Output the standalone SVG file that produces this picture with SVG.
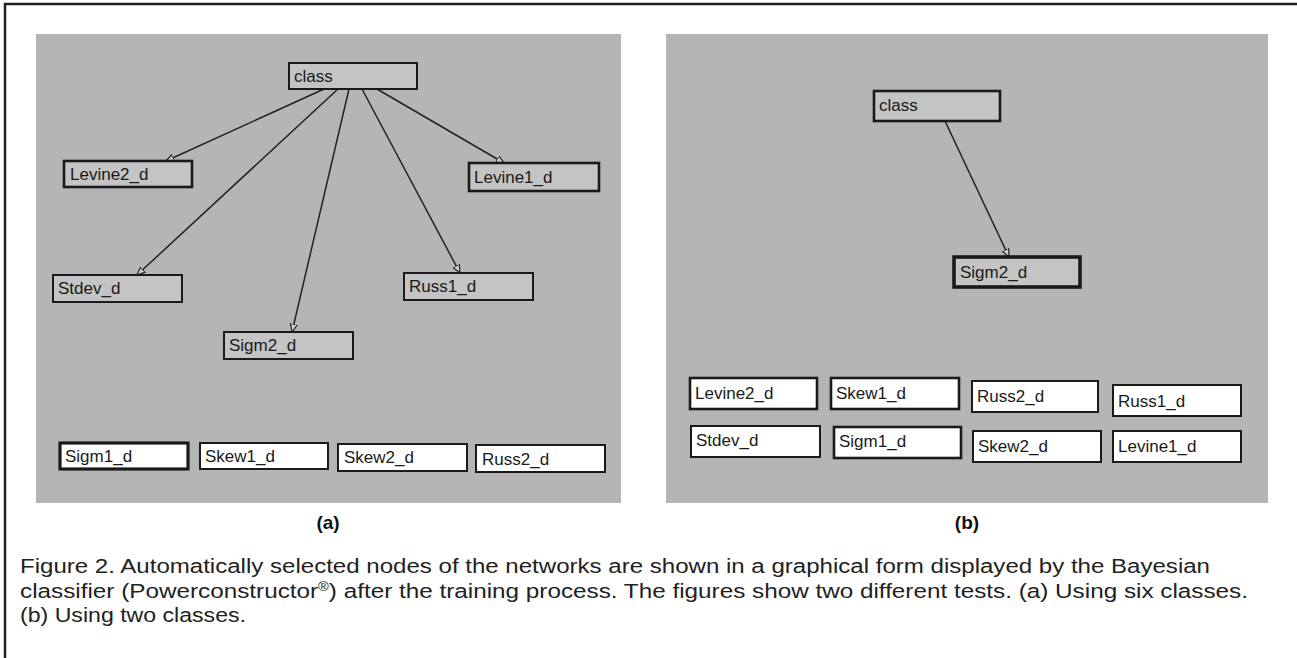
<svg xmlns="http://www.w3.org/2000/svg" width="1297" height="658" viewBox="0 0 1297 658">
<style>
.panel{fill:#b5b5b5}
.ng{fill:#c4c4c4;stroke:#1a1a1a;stroke-width:2}
.nw{fill:#ffffff;stroke:#1a1a1a;stroke-width:2}
.thick{stroke-width:3.2}
.lbl{font-family:"Liberation Sans",Arial,sans-serif;font-size:17px;fill:#1a1a1a}
.edge{stroke:#222;stroke-width:1.5;fill:none;marker-end:url(#arr)}
.cap{font-family:"Liberation Sans",Arial,sans-serif;font-size:20px;fill:#222}
.sub{font-family:"Liberation Sans",Arial,sans-serif;font-size:19px;font-weight:bold;fill:#111}
</style>
<defs>
<marker id="arr" markerWidth="10" markerHeight="10" refX="8" refY="4" orient="auto" markerUnits="userSpaceOnUse">
<path d="M0,0.5 L8,4 L0,7.5 Z" fill="#d0d0d0" stroke="#222" stroke-width="1.2"/>
</marker>
</defs>
<rect x="0" y="0" width="1297" height="658" fill="#ffffff"/>
<path d="M5,658 V4 H1297" fill="none" stroke="#222" stroke-width="2.5"/>
<rect class="panel" x="36" y="34" width="585" height="469"/>
<rect class="panel" x="666" y="34" width="602" height="469"/>

<g id="connectors">
<line class="edge" x1="324" y1="89" x2="166" y2="161"/>
<line class="edge" x1="338" y1="89" x2="137" y2="275"/>
<line class="edge" x1="349" y1="89" x2="292" y2="332"/>
<line class="edge" x1="362" y1="89" x2="460" y2="273"/>
<line class="edge" x1="377" y1="89" x2="504" y2="163"/>
<line class="edge" x1="945" y1="121" x2="1009" y2="257"/>
</g>

<g id="a-class"><rect class="ng" x="289" y="63" width="128" height="26"/><text class="lbl" x="294" y="82">class</text></g>
<g id="a-levine2"><rect class="ng" x="64" y="161" width="128" height="26" style="stroke-width:2.6"/><text class="lbl" x="70" y="180">Levine2_d</text></g>
<g id="a-levine1"><rect class="ng" x="469" y="163" width="130" height="28" style="stroke-width:2.6"/><text class="lbl" x="474" y="183">Levine1_d</text></g>
<g id="a-stdev"><rect class="ng" x="53" y="275" width="129" height="27"/><text class="lbl" x="58" y="294">Stdev_d</text></g>
<g id="a-russ1"><rect class="ng" x="404" y="273" width="129" height="27"/><text class="lbl" x="409" y="292">Russ1_d</text></g>
<g id="a-sigm2"><rect class="ng" x="224" y="332" width="129" height="27"/><text class="lbl" x="229" y="351">Sigm2_d</text></g>
<g id="a-sigm1"><rect class="nw thick" x="60" y="443" width="128" height="26"/><text class="lbl" x="65" y="462">Sigm1_d</text></g>
<g id="a-skew1"><rect class="nw" x="200" y="443" width="128" height="26"/><text class="lbl" x="205" y="462">Skew1_d</text></g>
<g id="a-skew2"><rect class="nw" x="338" y="444" width="129" height="27"/><text class="lbl" x="344" y="463">Skew2_d</text></g>
<g id="a-russ2"><rect class="nw" x="476" y="445" width="129" height="27"/><text class="lbl" x="482" y="465">Russ2_d</text></g>

<g id="b-class"><rect class="ng" x="874" y="91" width="126" height="30" style="stroke-width:2.6"/><text class="lbl" x="879" y="111">class</text></g>
<g id="b-sigm2"><rect class="ng thick" x="954" y="257" width="126" height="30" style="stroke-width:3.6"/><text class="lbl" x="960" y="278">Sigm2_d</text></g>
<g id="b-levine2"><rect class="nw" x="690" y="378" width="127" height="31" style="stroke-width:2.6"/><text class="lbl" x="695" y="399">Levine2_d</text></g>
<g id="b-skew1"><rect class="nw" x="831" y="378" width="128" height="31" style="stroke-width:2.6"/><text class="lbl" x="836" y="399">Skew1_d</text></g>
<g id="b-russ2"><rect class="nw" x="972" y="381" width="126" height="31"/><text class="lbl" x="977" y="402">Russ2_d</text></g>
<g id="b-russ1"><rect class="nw" x="1113" y="385" width="128" height="31"/><text class="lbl" x="1118" y="407">Russ1_d</text></g>
<g id="b-stdev"><rect class="nw" x="691" y="426" width="129" height="31"/><text class="lbl" x="696" y="446">Stdev_d</text></g>
<g id="b-sigm1"><rect class="nw" x="834" y="427" width="127" height="31" style="stroke-width:2.6"/><text class="lbl" x="839" y="447">Sigm1_d</text></g>
<g id="b-skew2"><rect class="nw" x="973" y="431" width="128" height="31"/><text class="lbl" x="978" y="452">Skew2_d</text></g>
<g id="b-levine1"><rect class="nw" x="1113" y="431" width="128" height="31"/><text class="lbl" x="1118" y="452">Levine1_d</text></g>

<text class="sub" x="328" y="529" text-anchor="middle">(a)</text>
<text class="sub" x="967" y="529" text-anchor="middle">(b)</text>

<text class="cap" x="20" y="573" textLength="1190" lengthAdjust="spacingAndGlyphs">Figure 2. Automatically selected nodes of the networks are shown in a graphical form displayed by the Bayesian</text>
<text class="cap" x="20" y="598" textLength="1228" lengthAdjust="spacingAndGlyphs">classifier (Powerconstructor<tspan dy="-7" font-size="12">®</tspan><tspan dy="7">) after the training process. The figures show two different tests. (a) Using six classes.</tspan></text>
<text class="cap" x="20" y="622" textLength="226" lengthAdjust="spacingAndGlyphs">(b) Using two classes.</text>
</svg>
